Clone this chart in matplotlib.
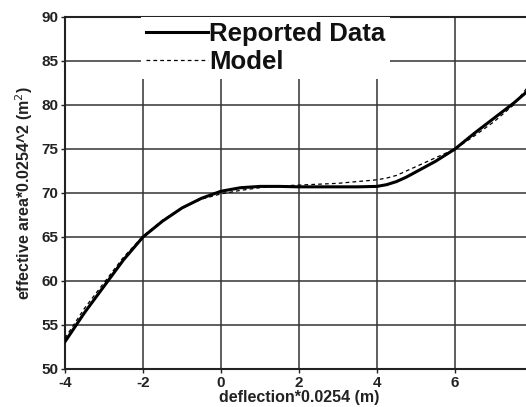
import numpy as np
import matplotlib
matplotlib.use('Agg')
import matplotlib.pyplot as plt

plt.rcParams['font.family'] = ['Liberation Sans', 'DejaVu Sans']
plt.rcParams['axes.unicode_minus'] = False

# measured effective area vs deflection
x_rep = [-4, -3.5, -3, -2.5, -2, -1.5, -1, -0.5, 0, 0.5, 1, 1.5, 2, 2.5, 3, 3.5,
         4, 4.25, 4.5, 4.75, 5, 5.5, 6, 6.5, 7, 7.5, 8]
y_rep = [53.1, 56.4, 59.4, 62.4, 65.0, 66.8, 68.3, 69.4, 70.2, 70.6, 70.75, 70.75,
         70.7, 70.7, 70.7, 70.7, 70.75, 70.95, 71.3, 71.8, 72.4, 73.6, 75.0, 76.8,
         78.5, 80.2, 82.1]

# model fit
x_mod = [-4, -3.5, -3, -2.5, -2, -1.5, -1, -0.5, 0, 0.5, 1, 1.5, 2, 2.5, 3, 3.5,
         4, 4.25, 4.5, 4.75, 5, 5.5, 6, 6.5, 7, 7.5, 8]
y_mod = [53.5, 56.9, 59.8, 62.7, 65.1, 66.9, 68.3, 69.3, 69.9, 70.3, 70.6, 70.8,
         70.9, 71.0, 71.1, 71.3, 71.5, 71.7, 72.0, 72.5, 73.0, 74.0, 75.0, 76.5,
         78.1, 80.0, 82.8]

xticks = [-4, -2, 0, 2, 4, 6, 8]
yticks = [50, 55, 60, 65, 70, 75, 80, 85, 90]

fig = plt.figure(figsize=(5.26, 4.07), dpi=100)
ax = fig.add_axes([65/526, 38/407, 468/526, 352/407])

ax.plot(x_rep, y_rep, color='black', lw=2.2, label='Reported Data', zorder=3)
ax.plot(x_mod, y_mod, color='black', lw=0.9, ls=(0, (3, 2.5)), label='Model', zorder=3)

ax.set_xlim(-4, 8)
ax.set_ylim(50, 90)
ax.set_xticks(xticks)
ax.set_yticks(yticks)
ax.grid(True, color='#333333', lw=1.1)
ax.set_axisbelow(True)
for s in ax.spines.values():
    s.set_linewidth(1.5)
    s.set_color('#222222')
ax.tick_params(length=3, width=1, labelsize=11, pad=2, colors='#222222')
for lab in ax.get_xticklabels() + ax.get_yticklabels():
    lab.set_fontweight('bold')

ax.set_xlabel('deflection*0.0254 (m)', fontsize=11.5, fontweight='bold', labelpad=0, color='#222222')
ax.set_ylabel('effective area*0.0254^2 (m$^2$)', fontsize=11.5, fontweight='bold', labelpad=4, color='#222222')

leg = ax.legend(loc='upper left', bbox_to_anchor=(0.162, 1.0), frameon=True, fancybox=False,
                edgecolor='none', facecolor='white', framealpha=1,
                prop={'size': 18.5, 'weight': 'bold'}, handlelength=2.4, handletextpad=0.05,
                borderpad=0.2, labelspacing=0.15, borderaxespad=0.0)
for t in leg.get_texts():
    t.set_color('#111111')

fig.savefig('out.png', dpi=100)
